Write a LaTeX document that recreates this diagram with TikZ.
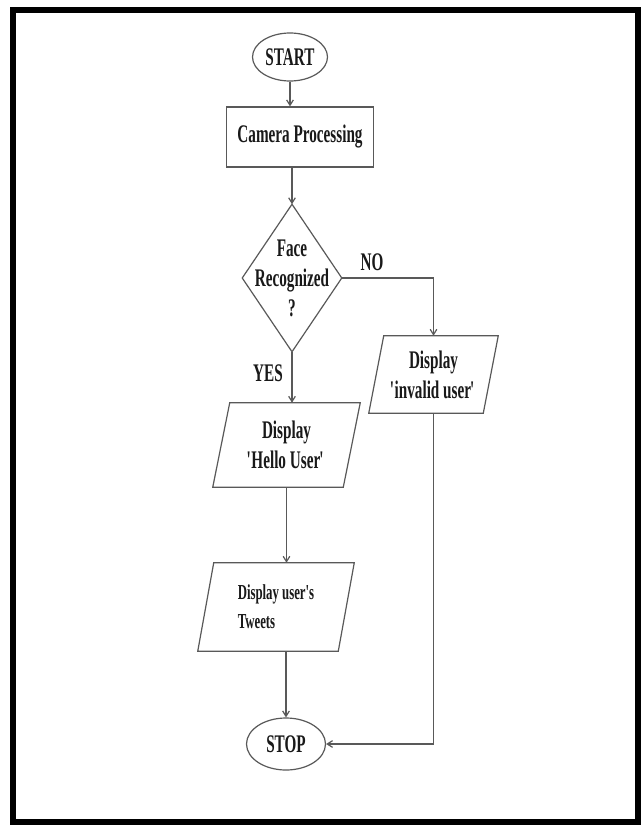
\documentclass[tikz,border=0pt]{standalone}
\usepackage{fontspec}
\newfontfamily\tnr[FakeStretch=0.6]{Liberation Serif}
\usetikzlibrary{shapes.geometric,arrows.meta}
\newcommand\myq{\textquotesingle\kern-0.09em}
\newcommand\myqr{\kern-0.04em\textquotesingle}
\begin{document}
\begin{tikzpicture}[x=0.75pt,y=-0.75pt,
  every node/.style={font=\tnr\bfseries\fontsize{19}{22.5}\selectfont, text=black!90, inner sep=0pt},
  line/.style={draw=black!65, line width=0.9pt},
  arr/.style={line, -{Straight Barb[length=4pt,width=5pt]}},
  term/.style={ellipse, line},
  proc/.style={rectangle, line},
  box/.style={rectangle, align=center},
]
\useasboundingbox[fill=white] (0,0) rectangle (642,825);
\draw[line width=4.5pt] (13,9.5) rectangle (637.5,821.5);

% nodes
\node[term, minimum width=75*0.75pt, minimum height=48*0.75pt] (start) at (290,57) {START};
\node[proc, minimum width=147*0.75pt, minimum height=60*0.75pt] (cam) at (300,137) {Camera Processing};
\node[box, minimum width=99*0.75pt, minimum height=147*0.75pt] (dec) at (292,278) {Face\\Recognized\\?};
\node[box, minimum width=114*0.75pt, minimum height=77*0.75pt] (inv) at (433.5,374.5) {Display\\\myq invalid user\myqr};
\node[box, minimum width=130*0.75pt, minimum height=84*0.75pt] (hello) at (286.5,445) {Display\\\myq Hello User\myqr};
\node[box, align=left, minimum width=140*0.75pt, minimum height=88*0.75pt, font=\tnr\bfseries\fontsize{16}{22}\selectfont] (tw) at (276,607) {Display user's\\Tweets};
\node[term, minimum width=79*0.75pt, minimum height=52*0.75pt] (stop) at (286,744) {STOP};
\node (no) at (372,262) {NO};
\node (yes) at (268,373) {YES};

% shape outlines
\draw[line] (dec.north) -- (dec.east) -- (dec.south) -- (dec.west) -- cycle;
\foreach \n/\s in {inv/15,hello/17,tw/16}{
  \draw[line] ([xshift={0.375pt*\s}]\n.north west) -- ([xshift={0.375pt*\s}]\n.north east)
    -- ([xshift={-0.375pt*\s}]\n.south east) -- ([xshift={-0.375pt*\s}]\n.south west) -- cycle;
}

% connectors
\draw[arr] (start.south) -- (start.south |- cam.north);
\draw[arr] (dec.north |- cam.south) -- (dec.north);
\draw[arr] (dec.east) -| (inv.north);
\draw[arr] (dec.south) -- (dec.south |- hello.north);
\draw[arr] (hello.south) -- (hello.south |- tw.north);
\draw[arr] (stop.north |- tw.south) -- (stop.north);
\draw[arr] (inv.south) |- (stop.east);
\end{tikzpicture}
\end{document}
